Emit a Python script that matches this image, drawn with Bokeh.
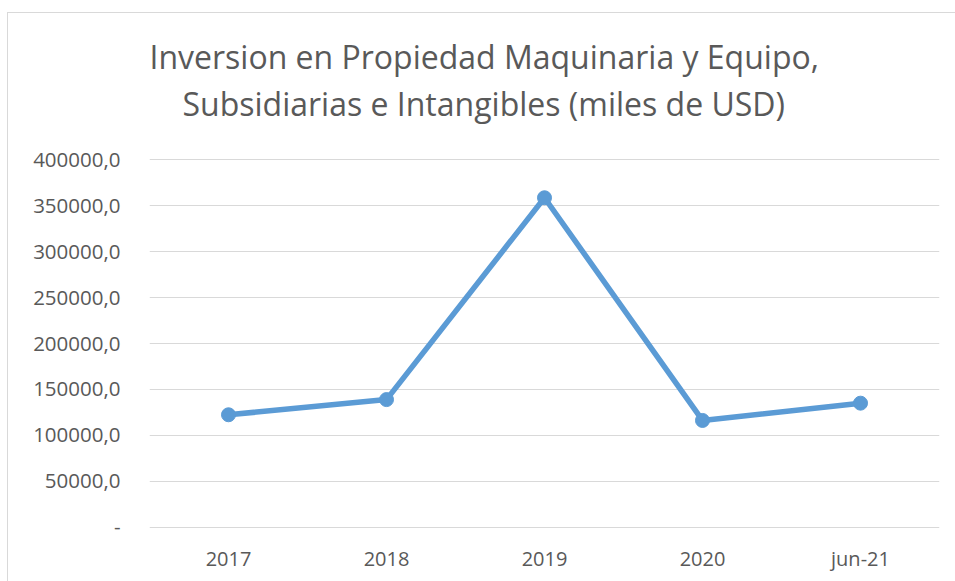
from bokeh.plotting import figure
from bokeh.models import Range1d, FixedTicker, CustomJSTickFormatter, Title
from bokeh.embed import file_html
from bokeh.resources import INLINE

categories = ["2017", "2018", "2019", "2020", "jun-21"]
values = [122500, 139000, 358500, 116300, 135100]
y_ticks = [0, 50000, 100000, 150000, 200000, 250000, 300000, 350000, 400000]
title_line1 = "Inversion en Propiedad Maquinaria y Equipo,"
title_line2 = "Subsidiarias e Intangibles (miles de USD)"

FONT = "Open Sans"
GRAY = "#595959"
BLUE = "#5B9BD5"

p = figure(x_range=categories, y_range=Range1d(-1200, 401200),
           width=948, height=569, output_backend="svg", toolbar_location=None,
           min_border_left=141, min_border_right=17, min_border_bottom=54,
           min_border_top=145)
p.styles = {"border-left": "1px solid #d9d9d9", "border-top": "1px solid #d9d9d9",
            "margin-top": "12px", "margin-left": "7px"}

p.title.text = title_line1
p.title.align = "left"
p.title.offset = 0
p.title.text_font = FONT
p.title.text_font_size = "32px"
p.title.text_font_style = "normal"
p.title.text_color = GRAY
p.title.standoff = 4

spacer = Title(text=" ", text_font_size="1px", standoff=31)
p.add_layout(spacer, "above")
t2 = Title(text=title_line2, align="left", offset=33, text_font=FONT,
           text_font_size="32px", text_font_style="normal", text_color=GRAY,
           standoff=0)
p.add_layout(t2, "above")

p.line(categories, values, line_color=BLUE, line_width=5.5)
p.scatter(categories, values, size=14, fill_color=BLUE, line_color=BLUE)

p.outline_line_color = None
p.xgrid.grid_line_color = None
p.ygrid.grid_line_color = "#d9d9d9"
p.ygrid.grid_line_width = 1

p.yaxis.ticker = FixedTicker(ticks=y_ticks)
p.yaxis.formatter = CustomJSTickFormatter(code="""
if (tick == 0) { return '-'; }
return tick.toFixed(1).replace('.', ',');
""")
for ax in (p.xaxis, p.yaxis):
    ax.axis_line_color = None
    ax.major_tick_line_color = None
    ax.minor_tick_line_color = None
    ax.major_label_text_font = FONT
    ax.major_label_text_color = GRAY
p.yaxis.major_label_text_font_size = "20.5px"
p.xaxis.major_label_text_font_size = "20px"
p.yaxis.major_label_standoff = 23
p.xaxis.major_label_standoff = 10

open("out.html", "w").write(file_html(p, INLINE))
